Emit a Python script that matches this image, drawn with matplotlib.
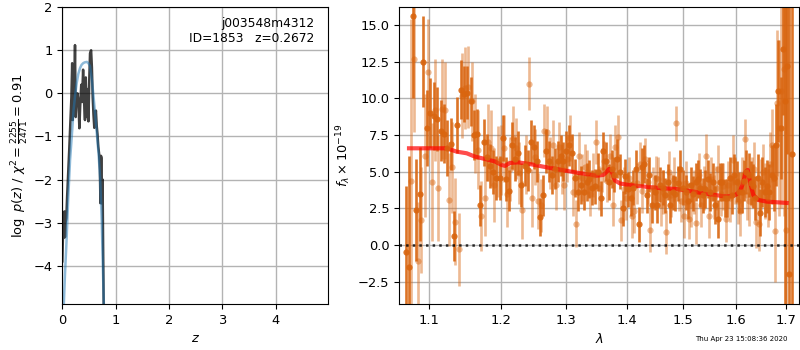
import numpy as np
import matplotlib
matplotlib.use('Agg')
import matplotlib.pyplot as plt
from matplotlib.ticker import MultipleLocator, NullLocator, FormatStrFormatter

# p(z) panel
pz_z = [0.000, 0.012, 0.025, 0.040, 0.050, 0.062, 0.075, 0.090, 0.110, 0.130,
        0.150, 0.170, 0.185, 0.195, 0.205, 0.220, 0.238, 0.250, 0.265, 0.285,
        0.300, 0.320, 0.335, 0.355, 0.370, 0.390, 0.405, 0.425, 0.440, 0.457,
        0.475, 0.490, 0.505, 0.520, 0.540, 0.555, 0.570, 0.585, 0.600, 0.615,
        0.630, 0.645, 0.660, 0.675, 0.690, 0.705, 0.715, 0.725, 0.735, 0.745,
        0.755, 0.765, 0.780]
pz_logp = [-3.90, -3.30, -3.35, -2.74, -3.34, -3.00, -2.90, -2.40, -1.85, -1.30,
           -0.70, -0.10, 0.70, -0.62, 0.60, -0.45, 1.12, -0.55, -0.10, 0.00,
           -0.15, -0.81, -0.30, 0.20, -0.20, 0.55, -0.10, -0.62, 0.37, -0.55,
           0.10, -0.65, 0.30, 0.93, 1.00, 0.60, -0.10, -0.50, -0.80, -0.60,
           -0.40, -0.75, -0.95, -1.24, -1.40, -1.78, -2.55, -1.45, -1.50, -2.55,
           -2.00, -3.50, -5.50]

prior_z = [0.025, 0.05, 0.08, 0.11, 0.145, 0.18, 0.21, 0.24, 0.27, 0.30, 0.33, 0.36, 0.39,
           0.42, 0.46, 0.49, 0.52, 0.55, 0.58, 0.61, 0.645, 0.68, 0.71, 0.74, 0.77, 0.785]
prior_logp = [-5.0, -4.2, -3.4, -2.45, -1.55, -0.95, -0.40, -0.05, 0.24, 0.45, 0.58, 0.66, 0.70,
              0.72, 0.73, 0.70, 0.63, 0.35, 0.00, -0.40, -0.90, -1.40, -1.98, -2.98, -4.5, -5.2]

# spectrum, two grism orientations on the same pixel grid
lam0_a, lam0_b, dlam = 1.069, 1.0752, 0.00463

flux_a = [-0.5, -1.5, 15.6, 2.4, 3.5, 12.5, 8.0, 9.0, 8.8, 8.6,
          7.8, 7.6, 6.6, 6.9, 0.6, 8.2, 10.6, 10.3, 10.4, 9.8,
          7.5, 7.6, 2.7, 7.0, 6.0, 5.4, 5.0, 4.6, 4.6, 7.3,
          4.5, 3.7, 6.8, 5.9, 6.3, 4.1, 5.4, 5.1, 7.0, 6.7,
          5.7, 1.9, 3.4, 6.4, 5.7, 4.8, 5.2, 5.7, 6.1, 5.7,
          6.4, 6.8, 6.3, 4.6, 3.6, 4.1, 3.6, 4.3, 4.5, 3.9,
          4.0, 5.0, 3.2, 6.4, 5.7, 4.3, 5.2, 4.8, 5.9, 5.0,
          2.5, 4.7, 3.8, 3.2, 3.9, 5.2, 1.4, 5.3, 5.5, 3.4,
          4.8, 2.7, 3.6, 2.7, 4.1, 3.9, 3.4, 4.3, 2.7, 3.6,
          3.5, 4.2, 5.2, 3.9, 3.6, 3.0, 4.1, 3.5, 4.3, 4.5,
          3.9, 3.4, 3.8, 4.5, 3.6, 4.3, 2.7, 1.8, 4.3, 4.3,
          3.2, 3.2, 4.6, 3.4, 4.8, 4.3, 3.6, 3.6, 4.4, 5.0,
          4.8, 4.2, 4.0, 3.2, 4.6, 2.2, 4.3, 3.6, 4.0, 3.6,
          4.8, 4.6, 6.8, 10.5, 8.0, 13.4, 9.8, 12.2, -2.0, 6.2]
err_a = [4.5, 7.6, 5.6, 3.5, 3.2, 3.1, 2.6, 2.4, 2.3, 2.2,
         2.1, 2.0, 1.9, 1.8, 1.7, 1.9, 2.0, 1.9, 1.8, 1.7,
         1.7, 1.7, 1.4, 1.6, 1.6, 1.5, 1.5, 1.5, 1.5, 1.6,
         1.5, 1.4, 1.6, 1.5, 1.5, 1.5, 1.4, 1.4, 1.5, 1.5,
         1.4, 1.3, 1.4, 1.5, 1.4, 1.3, 1.4, 1.4, 1.4, 1.3,
         1.4, 1.4, 1.3, 1.3, 1.3, 1.3, 1.2, 1.3, 1.3, 1.2,
         1.2, 1.3, 1.2, 1.3, 1.3, 1.2, 1.3, 1.2, 1.3, 1.2,
         1.2, 1.2, 1.2, 1.2, 1.2, 1.3, 1.2, 1.3, 1.3, 1.2,
         1.2, 1.2, 1.2, 1.2, 1.2, 1.2, 1.2, 1.2, 1.2, 1.2,
         1.2, 1.2, 1.3, 1.2, 1.2, 1.2, 1.2, 1.2, 1.3, 1.3,
         1.3, 1.2, 1.3, 1.3, 1.3, 1.3, 1.3, 1.3, 1.3, 1.3,
         1.3, 1.3, 1.4, 1.3, 1.4, 1.4, 1.4, 1.4, 1.4, 1.5,
         1.5, 1.5, 1.5, 1.5, 1.6, 1.6, 1.7, 1.7, 1.8, 1.9,
         2.0, 2.3, 2.8, 3.5, 3.5, 4.5, 15.0, 6.0, 20.0, 15.0]

flux_b = [4.4, 12.7, -1.1, 1.7, 6.1, 11.8, 4.3, 9.2, 3.9, 9.3,
          9.2, 3.1, 5.3, 1.6, -0.3, 10.2, 10.7, 10.8, 9.8, 7.6,
          6.5, 2.0, 3.2, 7.0, 6.6, 4.1, 5.7, 5.8, 6.6, 3.5,
          5.2, 7.3, 6.6, 4.9, 2.4, 5.5, 11.0, 3.2, 6.0, 3.0,
          2.7, 7.8, 7.7, 5.6, 6.8, 4.1, 6.7, 5.2, 4.1, 5.9,
          7.3, 3.6, 1.45, 6.1, 4.6, 5.3, 5.0, 3.5, 4.8, 7.0,
          3.9, 5.1, 5.7, 4.4, 6.1, 2.7, 6.7, 7.4, 1.7, 3.8,
          3.2, 4.6, 2.0, 2.3, 4.2, 5.5, 3.7, 5.9, 4.3, 1.0,
          3.9, 4.6, 4.5, 2.7, 3.6, 0.9, 5.0, 3.4, 4.5, 8.3,
          3.8, 3.0, 2.0, 4.2, 1.8, 2.7, 3.6, 1.5, 4.8, 2.7,
          3.9, 6.1, 2.0, 4.5, 3.3, 3.9, 5.2, 3.5, 4.0, 1.8,
          4.1, 3.2, 5.8, 4.4, 3.0, 2.3, 4.3, 7.2, 3.4, 3.0,
          4.3, 5.2, 1.6, 1.4, 4.1, 5.0, 3.7, 3.2, 5.5, 6.8,
          0.95, 9.7, 8.0, 10.5, 12.0, 1.0]
err_b = [11.0, 5.0, 4.0, 3.6, 4.2, 3.6, 4.0, 3.5, 3.6, 3.4,
         3.3, 3.2, 3.1, 3.0, 2.5, 2.9, 2.8, 2.8, 2.7, 2.7,
         2.7, 2.4, 2.6, 2.6, 2.6, 2.5, 2.4, 2.4, 2.3, 2.3,
         2.2, 2.2, 2.1, 2.1, 2.0, 2.0, 1.8, 2.0, 1.9, 1.9,
         1.8, 1.8, 1.8, 1.8, 1.7, 1.7, 1.7, 1.7, 1.7, 1.6,
         1.6, 1.6, 1.6, 1.6, 1.6, 1.6, 1.5, 1.5, 1.5, 1.5,
         1.5, 1.5, 1.4, 1.5, 1.5, 1.4, 1.5, 1.5, 1.4, 1.5,
         1.5, 1.4, 1.5, 1.5, 1.4, 1.5, 1.5, 1.4, 1.5, 1.5,
         1.4, 1.5, 1.5, 1.4, 1.5, 1.5, 1.4, 1.5, 1.5, 1.2,
         1.5, 1.4, 1.5, 1.5, 1.4, 1.5, 1.5, 1.4, 1.5, 1.5,
         1.5, 1.5, 1.5, 1.5, 1.5, 1.5, 1.6, 1.5, 1.6, 1.6,
         1.6, 1.6, 1.7, 1.6, 1.6, 1.7, 1.7, 1.4, 1.7, 1.7,
         1.7, 1.8, 1.8, 1.8, 1.8, 1.9, 1.9, 2.0, 2.2, 2.5,
         3.5, 5.0, 6.0, 8.0, 10.0, 17.0]

model_lam = [1.0731, 1.1000, 1.1236, 1.1374, 1.1514, 1.1631, 1.1774, 1.1919, 1.2017, 1.2066,
             1.2140, 1.2263, 1.2466, 1.2696, 1.2956, 1.3223, 1.3496, 1.3605, 1.3662, 1.3700,
             1.3746, 1.3801, 1.3885, 1.4027, 1.4316, 1.4611, 1.4881, 1.5186, 1.5499, 1.5819,
             1.5980, 1.6078, 1.6143, 1.6191, 1.6230, 1.6275, 1.6342, 1.6442, 1.6614, 1.7021]
model_flux = [6.60, 6.60, 6.60, 6.37, 6.26, 6.03, 5.87, 5.70, 5.46, 5.40,
              5.60, 5.64, 5.50, 5.30, 5.10, 4.90, 4.73, 4.78, 5.00, 5.19,
              5.00, 4.40, 4.20, 4.10, 3.98, 3.87, 3.82, 3.64, 3.46, 3.30,
              3.40, 3.64, 4.30, 5.00, 5.12, 4.30, 3.40, 3.07, 2.96, 2.87]

lam_a = lam0_a + dlam * np.arange(len(flux_a))
lam_b = lam0_b + dlam * np.arange(len(flux_b))

orange = '#d9650f'

fig = plt.figure(figsize=(8, 3.5), dpi=100)
ax1 = fig.add_axes([0.0779, 0.1314, 0.3325, 0.848])
ax2 = fig.add_axes([0.4991, 0.1314, 0.5, 0.848])

ax1.plot(pz_z, pz_logp, color='k', alpha=0.75, lw=1.8)
ax1.plot(prior_z, prior_logp, color='tab:blue', alpha=0.5, lw=1.8)
ax1.set_xlim(0, 4.99)
ax1.set_ylim(-4.89, 2)
ax1.set_xticks([0, 1, 2, 3, 4])
ax1.grid(color='0.7', lw=1)
ax1.tick_params(labelsize=9.4)
ax1.set_xlabel('$z$', fontsize=9.4)
ax1.set_ylabel(r'$\log\ p(z)$ / $\chi^2=\frac{2255}{2471}=0.91$', fontsize=9.4, labelpad=2)
ax1.text(0.947, 0.968, 'j003548m4312\nID=1853   z=0.2672', transform=ax1.transAxes,
         ha='right', va='top', fontsize=8.8)

ax2.errorbar(lam_b, flux_b, err_b, fmt='o', color=orange, alpha=0.45, ms=4.5,
             elinewidth=1.9, capsize=0, mew=0)
ax2.errorbar(lam_a, flux_a, err_a, fmt='o', color=orange, alpha=0.9, ms=4.5,
             elinewidth=1.9, capsize=0, mew=0)
ax2.plot(model_lam, model_flux, color='r', alpha=0.7, lw=3)
ax2.axhline(0, color='k', ls=':', lw=1.8, alpha=0.8)

ax2.set_xscale('log')
ax2.set_xlim(1.0604, 1.7285)
ax2.set_xticks([1.1, 1.2, 1.3, 1.4, 1.5, 1.6, 1.7])
ax2.xaxis.set_major_formatter(FormatStrFormatter('%.1f'))
ax2.xaxis.set_minor_locator(NullLocator())
ax2.set_ylim(-4.03, 16.23)
ax2.yaxis.set_major_locator(MultipleLocator(2.5))
ax2.grid(color='0.7', lw=1)
ax2.tick_params(labelsize=9.4)
ax2.set_xlabel(r'$\lambda$', fontsize=9.4)
ax2.set_ylabel(r'$f_\lambda \times 10^{-19}$', fontsize=9.4)

fig.text(0.985, 0.031, 'Thu Apr 23 15:08:36 2020', ha='right', va='center', fontsize=5)

fig.savefig('out.png', dpi=100)
